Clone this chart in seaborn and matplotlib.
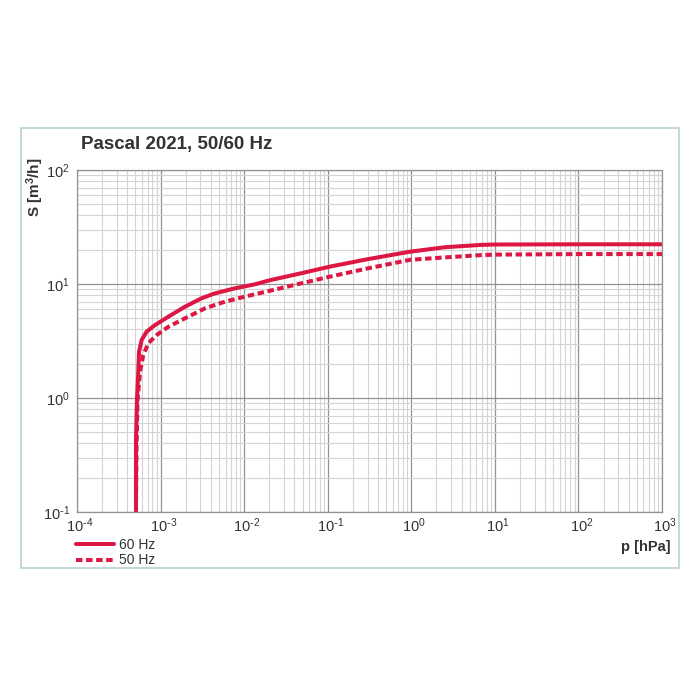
import numpy as np
import pandas as pd
import seaborn as sns
import matplotlib
matplotlib.use("Agg")
import matplotlib.pyplot as plt
import matplotlib.transforms as mtransforms
from matplotlib.patches import Rectangle
from matplotlib.ticker import LogLocator, FixedLocator, NullFormatter, FuncFormatter
from matplotlib.lines import Line2D

# ---- data ----
p_60 = [5.08e-4, 5.08e-4, 5.22e-4, 5.41e-4, 5.52e-4, 5.94e-4, 6.82e-4, 8.57e-4,
        1.24e-3, 1.96e-3, 3.10e-3, 4.48e-3, 7.78e-3, 1.35e-2, 2.04e-2, 5.0e-2,
        1.06e-1, 3.0e-1, 9.66e-1, 2.5, 6.64, 10, 100, 1000]
s_60 = [0.1, 0.43, 0.96, 1.70, 2.55, 3.23, 3.82, 4.36,
        5.17, 6.32, 7.50, 8.28, 9.17, 9.94, 10.8, 12.5,
        14.2, 16.5, 19.2, 21.0, 22.0, 22.2, 22.3, 22.3]

p_50 = [5.08e-4, 5.15e-4, 5.30e-4, 5.68e-4, 6.21e-4, 7.13e-4, 9.00e-4, 1.24e-3,
        1.96e-3, 3.40e-3, 5.90e-3, 1.02e-2, 2.04e-2, 5.0e-2, 1.06e-1, 3.0e-1,
        9.66e-1, 2.5, 6.64, 10, 100, 1000]
s_50 = [0.1, 0.35, 0.96, 1.70, 2.38, 3.02, 3.57, 4.22,
        5.00, 6.12, 7.00, 7.75, 8.73, 10.2, 11.6, 13.7,
        16.3, 17.1, 17.9, 18.1, 18.3, 18.3]

series_names = ["60 Hz", "50 Hz"]
title_text = "Pascal 2021, 50/60 Hz"
x_label = "p [hPa]"
y_label = "S [m$^3$/h]"
x_exponents = [-4, -3, -2, -1, 0, 1, 2, 3]
y_exponents = [-1, 0, 1, 2]

df = pd.concat([
    pd.DataFrame({"p": p_60, "S": s_60, "series": series_names[0], "order": range(len(p_60))}),
    pd.DataFrame({"p": p_50, "S": s_50, "series": series_names[1], "order": range(len(p_50))}),
])

red = "#dc1743"
text_col = "#333333"
dash_pat = (0, (1.6, 0.9))

sns.set_style("white")
plt.rcParams['font.family'] = ['Liberation Sans', 'DejaVu Sans']
plt.rcParams['axes.unicode_minus'] = False
plt.rcParams['mathtext.default'] = 'regular'

fig = plt.figure(figsize=(7, 7), dpi=100)
fig.patch.set_facecolor("white")

# outer frame
fig.patches.append(Rectangle((21/700, 1-568/700), (679-21)/700, (568-128)/700,
                             transform=fig.transFigure, fill=False,
                             edgecolor="#b6d2d2", linewidth=1.2))

ax = fig.add_axes([77/700, 1-512/700, (662-77)/700, (512-170)/700])

for name, ls in zip(series_names, ["-", dash_pat]):
    sub = df[df.series == name].sort_values("order")
    sns.lineplot(data=sub, x="p", y="S", sort=False, estimator=None, ax=ax,
                 color=red, linewidth=2.9, legend=False, linestyle=ls)
for ln in ax.get_lines():
    ln.set_solid_joinstyle("round")
    ln.set_dash_joinstyle("round")

ax.set_xscale("log")
ax.set_yscale("log")
ax.set_xlim(1e-4, 1e3)
ax.set_ylim(1e-1, 1e2)


def pow_label(v, pos=None):
    e = int(round(np.log10(v)))
    if e < 0:
        return "10$^{\\text{-}%d}$" % (-e)
    return "10$^{%d}$" % e


ax.xaxis.set_major_locator(FixedLocator([10.0**k for k in x_exponents]))
ax.yaxis.set_major_locator(FixedLocator([10.0**k for k in y_exponents]))
ax.xaxis.set_major_formatter(FuncFormatter(pow_label))
ax.yaxis.set_major_formatter(FuncFormatter(pow_label))
ax.xaxis.set_minor_locator(LogLocator(base=10, subs=np.arange(2, 10), numticks=20))
ax.yaxis.set_minor_locator(LogLocator(base=10, subs=np.arange(2, 10), numticks=20))
ax.xaxis.set_minor_formatter(NullFormatter())
ax.yaxis.set_minor_formatter(NullFormatter())

ax.grid(True, which="major", color="#929292", linewidth=0.9)
ax.grid(True, which="minor", color="#d4d4d4", linewidth=0.8)
ax.set_axisbelow(True)
for sp in ax.spines.values():
    sp.set_color("#929292")
    sp.set_linewidth(0.9)

ax.tick_params(axis="y", which="major", length=4, width=0.8, color="#929292",
               labelsize=10.5, labelcolor=text_col, pad=1)
ax.tick_params(axis="x", which="major", length=2, width=0.8, color="#929292",
               labelsize=10.5, labelcolor=text_col, pad=1.5)
ax.tick_params(axis="both", which="minor", length=0)

offset = mtransforms.ScaledTranslation(3/100, 0, fig.dpi_scale_trans)
for lab in ax.get_xticklabels():
    lab.set_transform(lab.get_transform() + offset)

ax.set_xlabel("")
ax.set_ylabel("")

fig.text(81/700, 1-145/700, title_text, fontsize=13.5, fontweight="bold",
         color=text_col, va="center", ha="left")
fig.text(35/700, 1-187/700, y_label, fontsize=11, fontweight="bold",
         color=text_col, rotation=90, va="center", ha="center")
fig.text(671/700, 1-547/700, x_label, fontsize=10.5, fontweight="bold",
         color=text_col, va="center", ha="right")

handles = [Line2D([0], [0], color=red, linewidth=2.9, linestyle="-"),
           Line2D([0], [0], color=red, linewidth=2.9, linestyle=dash_pat)]
leg = fig.legend(handles, series_names, loc="upper left",
                 bbox_to_anchor=(76/700, 1-538/700), frameon=False,
                 fontsize=10, handlelength=2.75, handletextpad=0.36,
                 labelspacing=0.1, borderaxespad=0, borderpad=0)
for t in leg.get_texts():
    t.set_color(text_col)

fig.savefig("out.png", dpi=100, facecolor="white")
